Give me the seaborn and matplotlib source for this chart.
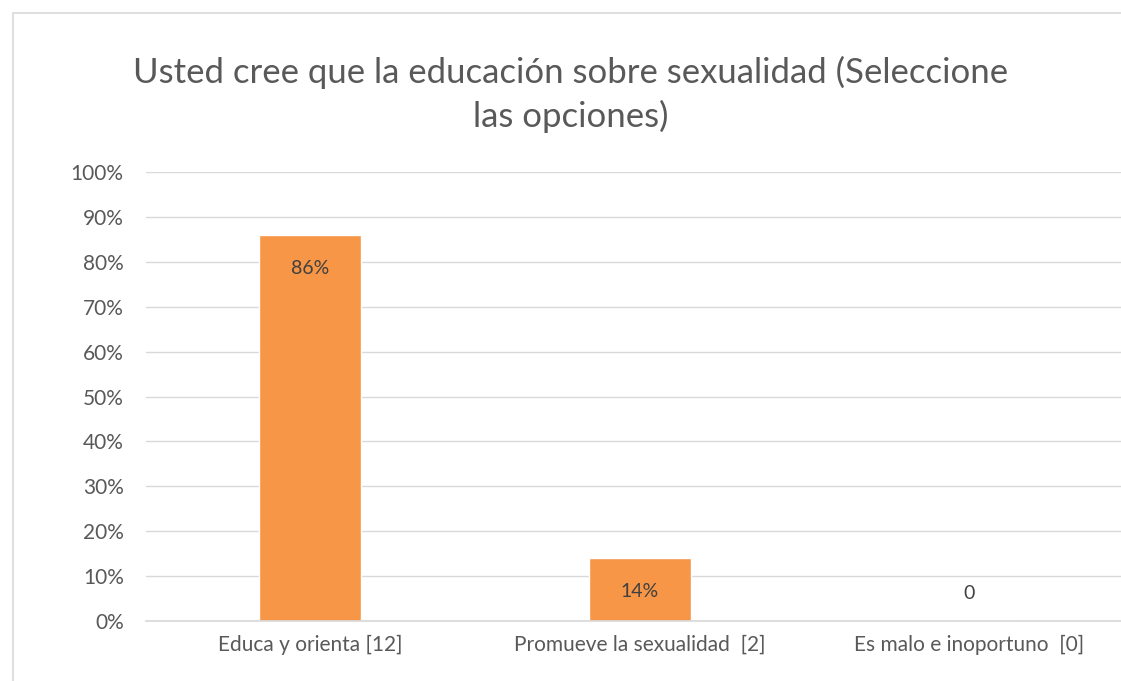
import pandas as pd
import matplotlib.pyplot as plt
import seaborn as sns
from matplotlib.patches import Rectangle
from matplotlib.ticker import PercentFormatter

# datos de la encuesta
categorias = ["Educa y orienta [12]", "Promueve la sexualidad  [2]", "Es malo e inoportuno  [0]"]
porcentajes = [86, 14, 0]
etiquetas = ["86%", "14%", "0"]
yticks = list(range(0, 101, 10))

df = pd.DataFrame({"categoria": categorias, "porcentaje": porcentajes})

sns.set_theme(style="white")
plt.rcParams["font.family"] = ["Lato", "DejaVu Sans"]

gris = "#595959"
naranja = "#F79646"

fig = plt.figure(figsize=(11.21, 6.81), dpi=100)
ax = fig.add_axes([0.1302, 0.0881, 0.8698, 0.6593])

sns.barplot(data=df, x="categoria", y="porcentaje", color=naranja,
            width=0.31, saturation=1, ax=ax, zorder=3)

ax.set_ylim(0, 100)
ax.set_xlim(-0.5, 2.463)
ax.set_yticks(yticks)
ax.yaxis.set_major_formatter(PercentFormatter(decimals=0))
ax.grid(axis="y", color="#D9D9D9", linewidth=1, zorder=0)
ax.set_xlabel("")
ax.set_ylabel("")
for s in ["top", "right", "left"]:
    ax.spines[s].set_visible(False)
ax.spines["bottom"].set_color("#D9D9D9")
ax.spines["bottom"].set_zorder(4)
ax.tick_params(axis="both", length=0, labelsize=15, labelcolor=gris)
ax.tick_params(axis="y", pad=16)
ax.tick_params(axis="x", pad=10)

# etiquetas de datos
for i, (v, t) in enumerate(zip(porcentajes, etiquetas)):
    off = -24 if v > 0 else 20
    ax.annotate(t, (i, v), xytext=(0, off), textcoords="offset points",
                ha="center", va="center", fontsize=14, color="#404040", zorder=5)

fig.text(0.509, 0.861, "Usted cree que la educación sobre sexualidad (Seleccione\nlas opciones)",
         ha="center", va="center", fontsize=25, color=gris, linespacing=1.4)

# borde del gráfico
fig.patches.append(Rectangle((13 / 1121, -0.01), 1.02, 1 - 13 / 681 + 0.01,
                             transform=fig.transFigure, fill=False,
                             edgecolor="#D9D9D9", linewidth=1.2))

fig.savefig("out.png", dpi=100)
